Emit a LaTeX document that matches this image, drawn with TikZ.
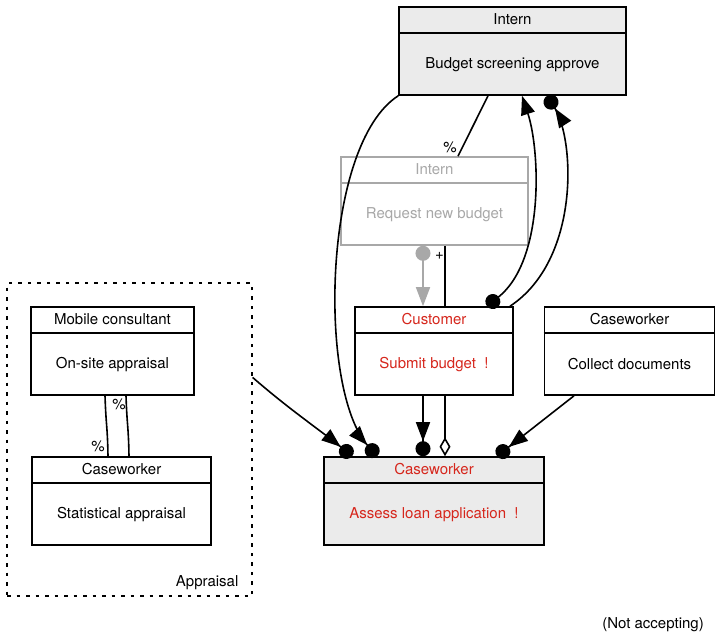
\documentclass[tikz,border=0pt]{standalone}
\usepackage{fontspec}
\setmainfont{TeX Gyre Heros}
\usetikzlibrary{arrows.meta,calc}
\definecolor{ured}{RGB}{214,38,28}
\definecolor{ugray}{RGB}{168,168,168}
\definecolor{ufill}{RGB}{235,235,235}
\tikzset{
  box/.style={draw, line width=1.6pt, minimum height=88pt, inner sep=0pt, fill=white},
  txt/.style={font=\fontsize{15}{18}\selectfont, inner sep=1pt},
  conn/.style={line width=1.6pt},
  tri/.style={Triangle[length=19pt,width=14pt]},
  dot/.style={Circle[length=15pt]},
  dotarrow/.style={-{Triangle[length=19pt,width=14pt]Circle[length=15pt]}},
  lbl/.style={font=\fontsize{15}{17}\selectfont, inner sep=0pt},
}
\newcommand\umlbox[7]{%
  \node[box,#2,minimum width=#5] (#1) at #4 {};
  \draw[line width=1.6pt,#2,fill=none] ([yshift=-26.5pt]#1.north west) -- ([yshift=-26.5pt]#1.north east);
  \node[txt,#3] (#1-h) at ([yshift=-13.25pt]#1.north) {#6};
  \node[txt,#3] (#1-b) at ($([yshift=-26.5pt]#1.north)!0.5!(#1.south)$) {#7};
}
\begin{document}
\begin{tikzpicture}[x=1pt,y=-1pt]
\useasboundingbox (0,0) rectangle (716,635);
% group
\node[draw, dash pattern=on 3.5pt off 6pt, line width=1.2pt, minimum width=245pt, minimum height=313pt, inner sep=0pt] (grp) at (129.5,439.5) {};
\node[txt, anchor=east] (grpl) at ([xshift=-13pt,yshift=14pt]grp.south east) {Appraisal};
% boxes
\umlbox{iA}{fill=ufill}{}{(512.5,51)}{227}{Intern}{Budget screening approve}
\umlbox{iB}{draw=ugray}{text=ugray}{(434.5,201)}{187}{Intern}{Request new budget}
\umlbox{cu}{}{text=ured}{(434,351)}{158}{Customer}{Submit budget\ \ !}
\umlbox{cd}{}{}{(629.5,351)}{170}{Caseworker}{Collect documents}
\umlbox{al}{fill=ufill}{text=ured}{(434,501)}{220}{Caseworker}{Assess loan application\ \ !}
\umlbox{mc}{}{}{(112.5,351)}{163}{Mobile consultant}{On-site appraisal}
\umlbox{sa}{}{}{(121.5,501)}{179}{Caseworker}{Statistical appraisal}
% connectors
\draw[conn,dotarrow] (iA.south west) .. controls (322,145) and (318,390) .. ([xshift=54pt]al.north west);
\draw[conn,dotarrow] ([yshift=-95pt]grp.north east) .. controls (290,410) and (320,430) .. ([xshift=29pt]al.north west);
\draw[conn] ([xshift=-24.5pt]iA.south) -- ([xshift=23.5pt]iB.north);
\node[lbl] (p1) at ($(iB.north)+(15.5,-9)$) {\%};
\draw[conn,ugray,{Circle[length=15pt]}-{Triangle[length=19pt,width=14pt]}] ([xshift=-11.5pt]iB.south) -- ([xshift=-11pt]cu.north);
\draw[conn] ([xshift=10.5pt]iB.south) -- ([xshift=11pt]cu.north);
\node[lbl] (pl) at ($(iB.south)+(5,10)$) {+};
\draw[conn,{Circle[length=15pt]}-{Triangle[length=19pt,width=14pt]}] ([xshift=53pt]cu.north) .. controls (545,260) and (540,150) .. ([xshift=9.5pt]iA.south);
\draw[conn,dotarrow] ([xshift=76pt]cu.north) .. controls (580,260) and (575,140) .. ([xshift=34.5pt]iA.south);
\draw[conn,dotarrow] ([xshift=-11pt]cu.south) -- ([xshift=-11pt]al.north);
\draw[conn,-{Diamond[open,length=19pt,width=11pt]}] ([xshift=11pt]cu.south) -- ([xshift=11pt]al.north);
\draw[conn,dotarrow] ([xshift=-55.5pt]cd.south) -- ([xshift=63pt]al.north);
\draw[conn] ([xshift=-7.5pt]mc.south) .. controls ([xshift=-6.5pt,yshift=-30pt]mc.south) and ([xshift=-14pt,yshift=30pt]sa.north) .. ([xshift=-13.5pt]sa.north);
\draw[conn] ([xshift=13.5pt]mc.south) .. controls ([xshift=14.5pt,yshift=-30pt]mc.south) and ([xshift=7pt,yshift=30pt]sa.north) .. ([xshift=7.5pt]sa.north);
\node[lbl] (p2) at ($(sa.north)+(-23.5,-10)$) {\%};
\node[lbl] (p3) at ($(mc.south)+(6.5,9)$) {\%};
\node[txt] (na) at (653,625) {(Not accepting)};
\end{tikzpicture}
\end{document}
